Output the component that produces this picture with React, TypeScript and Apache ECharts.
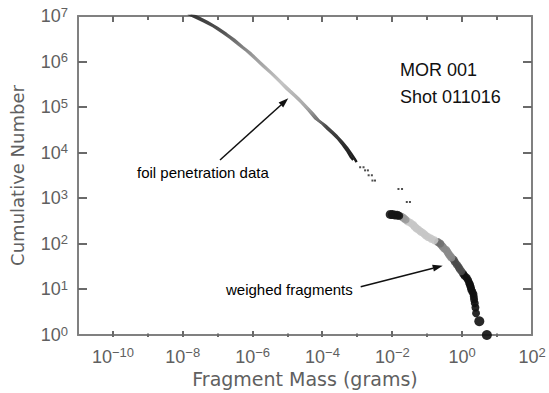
import React, { useEffect, useRef } from 'react';
import * as echarts from 'echarts';

// tick exponents (10^n)
const xExponents = ['-11', '-10', '-9', '-8', '-7', '-6', '-5', '-4', '-3', '-2', '-1', '0', '1', '2'];
const yExponents = ['0', '1', '2', '3', '4', '5', '6', '7'];
// tick values in data units
const xTickValues = [1e-10, 1e-9, 1e-8, 1e-7, 1e-6, 1e-5, 1e-4, 1e-3, 1e-2, 1e-1, 1, 10];
const yTickValues = [10, 100, 1e3, 1e4, 1e5, 1e6];

// foil penetration data: [mass (g), cumulative number] — two overlapping traces
const foilTraceA: [number, number][] = [
  [1.41e-8, 1.12e7], [2.0e-8, 9.8e6], [4.0e-8, 7.6e6], [7.6e-8, 5.9e6], [1.41e-7, 4.3e6],
  [2.3e-7, 3.3e6], [4.0e-7, 2.35e6], [6.8e-7, 1.7e6], [1.26e-6, 1.1e6], [2.0e-6, 7.9e5],
  [3.5e-6, 5.4e5], [6.2e-6, 3.5e5], [9.5e-6, 2.5e5], [1.6e-5, 1.74e5], [2.5e-5, 1.26e5],
  [4.0e-5, 8.5e4], [6.3e-5, 5.6e4], [1.0e-4, 4.3e4], [1.41e-4, 3.3e4], [2.0e-4, 2.6e4],
  [2.8e-4, 2.0e4], [3.8e-4, 1.5e4], [5.0e-4, 1.12e4], [6.3e-4, 8.3e3], [7.6e-4, 6.9e3],
];
const foilTraceB: [number, number][] = [
  [1.7e-8, 1.1e7], [2.6e-8, 9.6e6], [5.0e-8, 7.4e6], [9.5e-8, 5.6e6], [1.8e-7, 4.0e6],
  [3.0e-7, 3.0e6], [5.2e-7, 2.1e6], [9.0e-7, 1.5e6], [1.6e-6, 9.8e5], [2.6e-6, 7.0e5],
  [4.4e-6, 4.8e5], [7.6e-6, 3.2e5], [1.2e-5, 2.3e5], [2.0e-5, 1.6e5], [3.2e-5, 1.1e5],
  [5.2e-5, 7.4e4], [8.0e-5, 5.0e4], [1.3e-4, 3.8e4], [1.9e-4, 2.9e4], [2.6e-4, 2.3e4],
  [3.6e-4, 1.75e4], [5.0e-4, 1.3e4], [6.6e-4, 9.6e3], [8.3e-4, 7.4e3], [9.5e-4, 6.2e3],
];
const foilTail: [number, number][] = [
  [1.2e-3, 4.8e3], [1.5e-3, 4.8e3], [1.66e-3, 4.1e3], [2.0e-3, 4.1e3],
  [2.1e-3, 3.2e3], [2.6e-3, 3.2e3], [2.7e-3, 2.45e3], [3.2e-3, 2.45e3],
  [1.5e-2, 1.6e3], [1.9e-2, 1.6e3], [2.6e-2, 830], [3.2e-2, 830],
];

// weighed fragments: [mass (g), cumulative number]
const weighedFragments: [number, number][] = [
  [5.1, 1], [3.1, 2], [2.5, 3], [2.4, 4], [2.3, 5], [2.2, 6], [2.15, 7], [2.1, 8], [1.95, 9],
  [1.82, 10], [1.78, 11], [1.7, 12], [1.66, 13], [1.58, 14], [1.48, 16], [1.35, 18], [1.17, 20],
  [1.07, 22], [0.95, 25], [0.85, 28], [0.79, 31], [0.71, 35], [0.62, 40], [0.575, 45], [0.49, 50],
  [0.45, 55], [0.41, 60], [0.38, 66], [0.35, 73], [0.30, 80], [0.275, 88], [0.25, 95], [0.235, 102],
  [0.20, 110], [0.16, 120], [0.13, 130], [0.105, 142], [0.089, 155], [0.078, 170], [0.066, 185],
  [0.058, 200], [0.050, 218], [0.044, 238], [0.040, 260], [0.034, 285], [0.028, 310], [0.024, 340],
  [0.021, 370], [0.0186, 395], [0.0158, 415], [0.0138, 425], [0.0117, 432], [0.010, 438], [0.0087, 442],
];

const annotation1 = 'MOR 001';
const annotation2 = 'Shot 011016';
const foilLabel = 'foil penetration data';
const weighedLabel = 'weighed fragments';
const xTitle = 'Fragment Mass (grams)';
const yTitle = 'Cumulative Number';

const AXIS_COLOR = '#808080';
const TICK_COLOR = '#6a6a6a';
const LABEL_COLOR = '#606060';
const LABEL_FONT = '"Liberation Sans", Arial, sans-serif';
const TITLE_FONT = '"DejaVu Sans", sans-serif';
const X_MIN = 1e-11;
const X_MAX = 100;
const Y_MIN = 1;
const Y_MAX = 1e7;
const GRID = { left: 78, right: 17, top: 16, bottom: 56 };
const W = 549;
const H = 393;

const supRich = {
  b: { fontSize: 18, fontFamily: LABEL_FONT, color: LABEL_COLOR },
  s: { fontSize: 13, fontFamily: LABEL_FONT, color: LABEL_COLOR, padding: [0, 0, 8, 0] },
};
const expLabel = (v: string) => `{b|10}{s|${v.replace('-', '\u2212')}}`;
const isEven = (_i: number, v: string) => Number(v) % 2 === 0;

function weighedColor(n: number): string {
  if (n >= 415) return '#151515';
  if (n >= 330) return '#9a9a9a';
  if (n >= 112) return '#c6c6c6';
  if (n >= 96) return '#707070';
  if (n >= 50) return '#8a8a8a';
  if (n >= 25) return '#4a4a4a';
  return '#111111';
}

export default function App() {
  const ref = useRef<HTMLDivElement>(null);
  useEffect(() => {
    if (!ref.current) return;
    const chart = echarts.init(ref.current, undefined, { renderer: 'svg' });
    const axisLine = { show: true, onZero: false, lineStyle: { color: AXIS_COLOR, width: 2 } };
    const noLine = { show: false, onZero: false };
    const foilGradient = new echarts.graphic.LinearGradient(0, 0, 1, 0, [
      { offset: 0, color: '#333333' },
      { offset: 0.2, color: '#555555' },
      { offset: 0.38, color: '#9a9a9a' },
      { offset: 0.55, color: '#c4c4c4' },
      { offset: 0.7, color: '#a8a8a8' },
      { offset: 0.82, color: '#4a4a4a' },
      { offset: 1, color: '#1a1a1a' },
    ]);
    const annotations: any[] = [
      { type: 'text', x: 400, y: 70, style: { text: annotation1, fontSize: 18, fontFamily: LABEL_FONT, fill: '#111', verticalAlign: 'middle', align: 'left' } },
      { type: 'text', x: 400, y: 96.5, style: { text: annotation2, fontSize: 18, fontFamily: LABEL_FONT, fill: '#111', verticalAlign: 'middle', align: 'left' } },
      { type: 'text', x: 137, y: 172.5, style: { text: foilLabel, fontSize: 15, fontFamily: LABEL_FONT, fill: '#000', verticalAlign: 'middle', align: 'left' } },
      { type: 'text', x: 226, y: 289, style: { text: weighedLabel, fontSize: 15, fontFamily: LABEL_FONT, fill: '#000', verticalAlign: 'middle', align: 'left' } },
      { type: 'line', shape: { x1: 220, y1: 160, x2: 281, y2: 105 }, style: { stroke: '#111', lineWidth: 1.5 } },
      { type: 'polygon', shape: { points: [[288.3, 98.3], [283.2, 107.6], [278.6, 102.4]] }, style: { fill: '#111' } },
      { type: 'line', shape: { x1: 360.7, y1: 286.7, x2: 433, y2: 268.2 }, style: { stroke: '#111', lineWidth: 1.5 } },
      { type: 'polygon', shape: { points: [[442.7, 265.7], [433.9, 271.6], [432.1, 264.8]] }, style: { fill: '#111' } },
    ];

    // plot-edge and tick positions, taken from the chart's log scales when available
    const left = GRID.left;
    const right = W - GRID.right;
    const top = GRID.top;
    const bottom = H - GRID.bottom;
    const ok = (n: any) => typeof n === 'number' && isFinite(n);
    const xPix = (v: number) => {
      let p: any = null;
      try { p = chart.convertToPixel({ xAxisIndex: 0 }, v); } catch (e) { p = null; }
      if (ok(p)) return p as number;
      return left + ((Math.log10(v) - Math.log10(X_MIN)) / (Math.log10(X_MAX) - Math.log10(X_MIN))) * (right - left);
    };
    const yPix = (v: number) => {
      let p: any = null;
      try { p = chart.convertToPixel({ yAxisIndex: 0 }, v); } catch (e) { p = null; }
      if (ok(p)) return p as number;
      return bottom - ((Math.log10(v) - Math.log10(Y_MIN)) / (Math.log10(Y_MAX) - Math.log10(Y_MIN))) * (bottom - top);
    };
    const buildTicks = () => {
      const st = { stroke: TICK_COLOR, lineWidth: 2 };
      const t: any[] = [];
      xTickValues.forEach((v) => {
        const px = Math.round(xPix(v));
        const major = Math.round(Math.log10(v)) % 2 === 0;
        const lb = major ? 6 : 3.5;
        const lt = major ? 6 : 4;
        t.push({ type: 'line', z: 100, shape: { x1: px, y1: bottom, x2: px, y2: bottom - lb }, style: st });
        t.push({ type: 'line', z: 100, shape: { x1: px, y1: top, x2: px, y2: top + lt }, style: st });
      });
      yTickValues.forEach((v) => {
        const py = Math.round(yPix(v));
        t.push({ type: 'line', z: 100, shape: { x1: left, y1: py, x2: left + 9, y2: py }, style: st });
        t.push({ type: 'line', z: 100, shape: { x1: right, y1: py, x2: right - 9, y2: py }, style: st });
      });
      return t;
    };

    const option: any = {
      animation: false,
      backgroundColor: '#ffffff',
      grid: { ...GRID, containLabel: false },
      xAxis: [
        {
          type: 'log', logBase: 10, min: X_MIN, max: X_MAX, position: 'bottom', axisLine,
          axisTick: { show: false }, axisLabel: { show: false }, splitLine: { show: false },
          name: xTitle, nameLocation: 'middle', nameGap: 34,
          nameTextStyle: { fontFamily: TITLE_FONT, fontSize: 19, color: LABEL_COLOR },
        },
        {
          type: 'category', data: xExponents, boundaryGap: false, position: 'bottom', axisLine: noLine,
          axisTick: { show: false },
          axisLabel: { show: true, interval: isEven, formatter: expLabel, rich: supRich, margin: 11 },
          splitLine: { show: false },
        },
        {
          type: 'category', data: xExponents, boundaryGap: false, position: 'top', axisLine,
          axisTick: { show: false }, axisLabel: { show: false }, splitLine: { show: false },
        },
      ],
      yAxis: [
        {
          type: 'log', logBase: 10, min: Y_MIN, max: Y_MAX, position: 'left', axisLine,
          axisTick: { show: false }, axisLabel: { show: false }, splitLine: { show: false },
          name: yTitle, nameLocation: 'middle', nameGap: 52, nameRotate: 90,
          nameTextStyle: { fontFamily: TITLE_FONT, fontSize: 18, color: LABEL_COLOR },
        },
        {
          type: 'category', data: yExponents, boundaryGap: false, position: 'left', axisLine: noLine,
          axisTick: { show: false },
          axisLabel: { show: true, interval: 0, formatter: expLabel, rich: supRich, margin: 10 },
          splitLine: { show: false },
        },
        {
          type: 'category', data: yExponents, boundaryGap: false, position: 'right', axisLine,
          axisTick: { show: false }, axisLabel: { show: false }, splitLine: { show: false },
        },
      ],
      series: [
        {
          name: 'foil A', type: 'line', data: foilTraceA, xAxisIndex: 0, yAxisIndex: 0,
          showSymbol: false, smooth: false, lineStyle: { width: 2.5, color: foilGradient }, z: 3,
        },
        {
          name: 'foil B', type: 'line', data: foilTraceB, xAxisIndex: 0, yAxisIndex: 0,
          showSymbol: false, smooth: false, lineStyle: { width: 2.5, color: foilGradient }, z: 3,
        },
        {
          name: 'foil tail', type: 'scatter', data: foilTail, xAxisIndex: 0, yAxisIndex: 0,
          symbol: 'rect', symbolSize: 2, itemStyle: { color: '#222222' }, z: 3,
        },
        {
          name: 'weighed', type: 'scatter', data: weighedFragments, xAxisIndex: 0, yAxisIndex: 0,
          symbolSize: (v: number[]) => (v[1] <= 2 ? 10 : v[1] >= 425 ? 9 : 8),
          itemStyle: { color: (p: any) => weighedColor(p.value[1]), opacity: 0.9 }, z: 4,
        },
      ],
      graphic: { elements: annotations },
    };
    chart.setOption(option);
    // ticks go in with the annotations, in one full replacement of the graphic elements
    chart.setOption({ graphic: { elements: [...annotations, ...buildTicks()] } }, { replaceMerge: ['graphic'] } as any);

    return () => chart.dispose();
  }, []);
  return (
    <div
      ref={ref}
      style={{ position: 'fixed', left: 0, top: 0, width: W, height: H, background: '#fff' }}
    />
  );
}
